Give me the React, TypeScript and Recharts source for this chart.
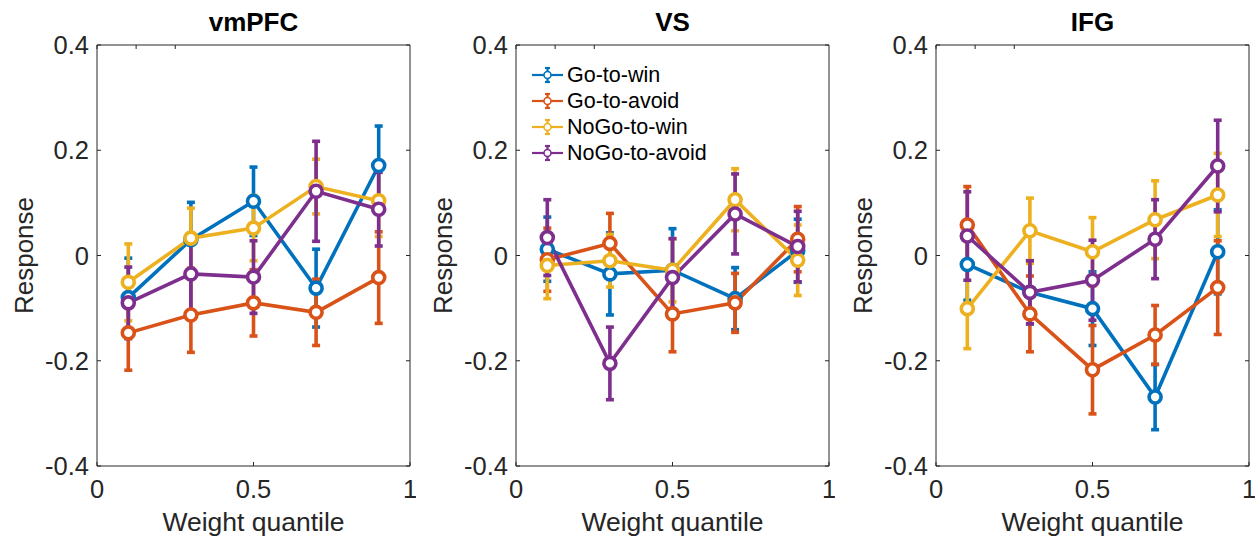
import React from 'react';
import { LineChart, Line, XAxis, YAxis, ErrorBar } from 'recharts';

const xValues = [0.1, 0.3, 0.5, 0.7, 0.9];
const seriesNames = ['Go-to-win', 'Go-to-avoid', 'NoGo-to-win', 'NoGo-to-avoid'];
const seriesColors = ['#0072BD', '#D95319', '#EDB120', '#7E2F8E'];
const panelTitles = ['vmPFC', 'VS', 'IFG'];
const yTicks = [-0.4, -0.2, 0, 0.2, 0.4];
const xTicks = [0, 0.5, 1];

// rows: Go-to-win, Go-to-avoid, NoGo-to-win, NoGo-to-avoid
const vmpfcMean = [
  [-0.080, 0.030, 0.103, -0.062, 0.171],
  [-0.147, -0.113, -0.090, -0.108, -0.042],
  [-0.051, 0.033, 0.052, 0.131, 0.104],
  [-0.090, -0.035, -0.041, 0.122, 0.088],
];
const vmpfcErr = [
  [0.075, 0.071, 0.065, 0.074, 0.075],
  [0.071, 0.071, 0.063, 0.063, 0.087],
  [0.073, 0.057, 0.062, 0.052, 0.068],
  [0.068, 0.077, 0.069, 0.095, 0.070],
];
const vsMean = [
  [0.012, -0.035, -0.028, -0.082, 0.009],
  [-0.008, 0.023, -0.111, -0.090, 0.031],
  [-0.019, -0.010, -0.028, 0.106, -0.009],
  [0.034, -0.205, -0.042, 0.079, 0.017],
];
const vsErr = [
  [0.061, 0.078, 0.079, 0.059, 0.060],
  [0.060, 0.057, 0.072, 0.056, 0.062],
  [0.063, 0.050, 0.060, 0.059, 0.067],
  [0.072, 0.069, 0.074, 0.076, 0.067],
];
const ifgMean = [
  [-0.017, -0.070, -0.101, -0.269, 0.007],
  [0.058, -0.111, -0.217, -0.151, -0.061],
  [-0.101, 0.047, 0.007, 0.068, 0.115],
  [0.037, -0.070, -0.047, 0.031, 0.170],
];
const ifgErr = [
  [0.068, 0.060, 0.070, 0.062, 0.080],
  [0.073, 0.072, 0.084, 0.056, 0.089],
  [0.076, 0.062, 0.065, 0.074, 0.079],
  [0.084, 0.060, 0.076, 0.075, 0.087],
];

const panelMeans = [vmpfcMean, vsMean, ifgMean];
const panelErrs = [vmpfcErr, vsErr, ifgErr];
const plotLefts = [97, 516, 936];

const FONT = '"Liberation Sans", Arial, Helvetica, sans-serif';
const AXIS_COLOR = '#262626';
const PLOT_W = 313;
const LEFT_W = 90;
const CHART_W = LEFT_W + PLOT_W + 1 + 5;
const CHART_H = 539;

function buildRows(means: number[][], errs: number[][]) {
  return xValues.map((x, i) => {
    const row: Record<string, number> = { x };
    means.forEach((m, k) => {
      row[`m${k}`] = m[i];
      row[`e${k}`] = errs[k][i];
    });
    return row;
  });
}

const fmtY = (v: number) => (v === 0 ? '0' : String(v));
const fmtX = (v: number) => String(v);
const blank = () => '';

const tickStyle = { fill: AXIS_COLOR, fontSize: 25.5, fontFamily: FONT };

function Panel({ idx }: { idx: number }) {
  const rows = buildRows(panelMeans[idx], panelErrs[idx]);
  const title = panelTitles[idx];
  return (
    <LineChart
      width={CHART_W}
      height={CHART_H}
      data={rows}
      margin={{ top: 44, right: 5, bottom: 0, left: 0 }}
    >
      <XAxis
        dataKey="x"
        type="number"
        domain={[0, 1]}
        ticks={xTicks}
        interval={0}
        tickFormatter={fmtX}
        height={73}
        tickSize={-4}
        tickMargin={18}
        stroke={AXIS_COLOR}
        tick={tickStyle}
        allowDataOverflow
        label={(p: any) => {
          const vb = p.viewBox || {};
          return (
            <text
              x={vb.x + vb.width / 2}
              y={vb.y + 65}
              textAnchor="middle"
              fill={AXIS_COLOR}
              fontSize={26.5}
              fontFamily={FONT}
            >
              Weight quantile
            </text>
          );
        }}
      />
      <XAxis
        xAxisId="top"
        orientation="top"
        type="number"
        domain={[0, 1]}
        ticks={xTicks}
        interval={0}
        tickFormatter={blank}
        height={1}
        tickSize={-4}
        stroke={AXIS_COLOR}
        allowDataOverflow
        label={(p: any) => {
          const vb = p.viewBox || {};
          return (
            <text
              x={vb.x + vb.width / 2}
              y={31}
              textAnchor="middle"
              fill="#000"
              fontSize={26}
              fontWeight="bold"
              fontFamily={FONT}
            >
              {title}
            </text>
          );
        }}
      />
      <YAxis
        type="number"
        domain={[-0.4, 0.4]}
        ticks={yTicks}
        interval={0}
        tickFormatter={fmtY}
        width={LEFT_W}
        tickSize={-4}
        tickMargin={12}
        stroke={AXIS_COLOR}
        tick={tickStyle}
        allowDataOverflow
        label={(p: any) => {
          const vb = p.viewBox || {};
          const cx = (vb.x || 0) + 26;
          const cy = vb.y + vb.height / 2;
          return (
            <text
              x={cx}
              y={cy}
              transform={`rotate(-90, ${cx}, ${cy})`}
              textAnchor="middle"
              fill={AXIS_COLOR}
              fontSize={26}
              fontFamily={FONT}
            >
              Response
            </text>
          );
        }}
      />
      <YAxis
        yAxisId="right"
        orientation="right"
        type="number"
        domain={[-0.4, 0.4]}
        ticks={yTicks}
        interval={0}
        tickFormatter={blank}
        width={1}
        tickSize={-4}
        stroke={AXIS_COLOR}
        allowDataOverflow
      />
      {seriesNames.map((name, k) => (
        <Line
          key={name}
          name={name}
          dataKey={`m${k}`}
          type="linear"
          stroke={seriesColors[k]}
          strokeWidth={3.6}
          dot={{ r: 6, fill: '#fff', stroke: seriesColors[k], strokeWidth: 3.6 }}
          activeDot={false}
          isAnimationActive={false}
        >
          <ErrorBar
            dataKey={`e${k}`}
            direction="y"
            width={4}
            stroke={seriesColors[k]}
            strokeWidth={3.6}
            isAnimationActive={false}
          />
        </Line>
      ))}
    </LineChart>
  );
}

function LegendBox() {
  return (
    <div style={{ position: 'absolute', left: 530, top: 62 }}>
      {seriesNames.map((name, k) => (
        <div
          key={name}
          style={{ display: 'flex', alignItems: 'center', height: 26 }}
        >
          <svg width={37} height={20} style={{ display: 'block' }}>
            <line x1={2} y1={10} x2={33} y2={10} stroke={seriesColors[k]} strokeWidth={2.2} />
            <line x1={17.5} y1={3} x2={17.5} y2={17} stroke={seriesColors[k]} strokeWidth={2.2} />
            <line x1={15} y1={3} x2={20} y2={3} stroke={seriesColors[k]} strokeWidth={2.2} />
            <line x1={15} y1={17} x2={20} y2={17} stroke={seriesColors[k]} strokeWidth={2.2} />
            <circle cx={17.5} cy={10} r={3.5} fill="#fff" stroke={seriesColors[k]} strokeWidth={1.6} />
          </svg>
          <span style={{ fontFamily: FONT, fontSize: 21.5, color: '#000', lineHeight: '26px' }}>
            {name}
          </span>
        </div>
      ))}
    </div>
  );
}

export default function App() {
  return (
    <div
      style={{
        position: 'absolute',
        left: 0,
        top: 0,
        width: 1258,
        height: 539,
        background: '#fff',
        overflow: 'hidden',
      }}
    >
      {plotLefts.map((pl, idx) => (
        <div key={idx} style={{ position: 'absolute', left: pl - LEFT_W, top: 0 }}>
          <Panel idx={idx} />
        </div>
      ))}
      <LegendBox />
    </div>
  );
}
